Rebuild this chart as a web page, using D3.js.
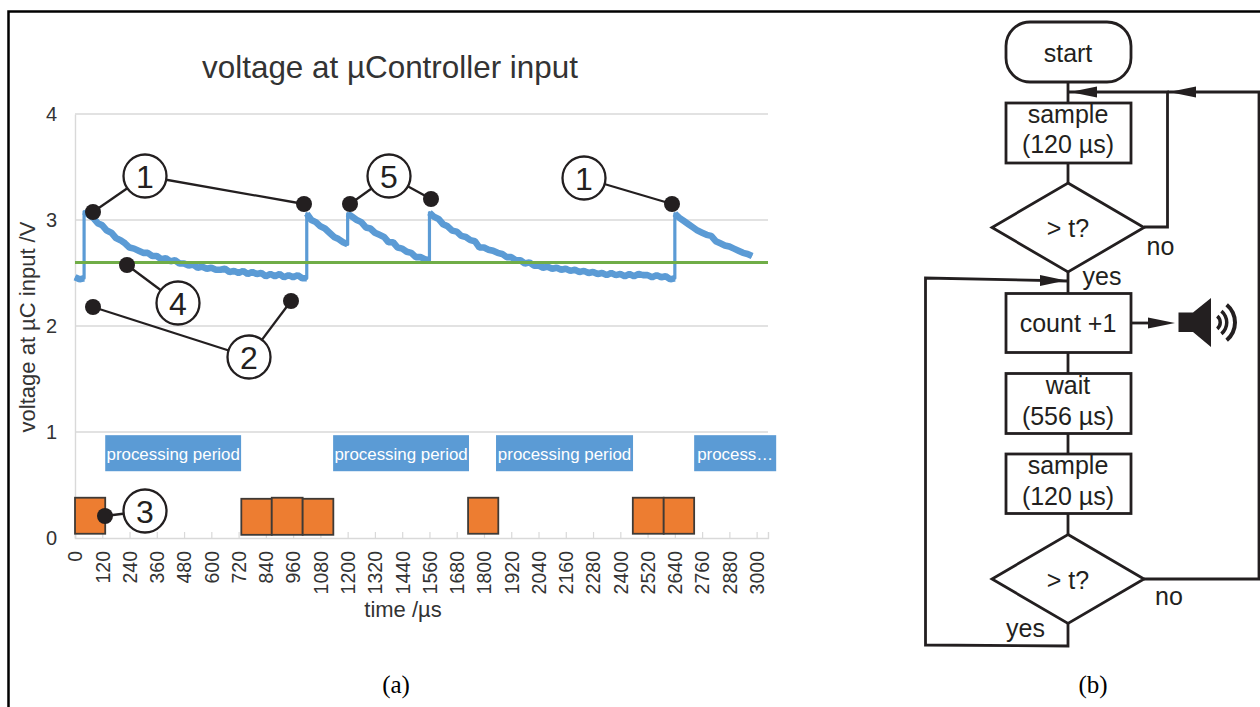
<!DOCTYPE html>
<html>
<head>
<meta charset="utf-8">
<script src="https://cdn.jsdelivr.net/npm/d3@7"></script>
<style>
  body { margin: 0; background: #fff; }
  svg { display: block; }
  text { font-family: "Liberation Sans", Arial, sans-serif; }
</style>
</head>
<body>
<div id="chart"></div>
<script>
// voltage samples, one array per charge/decay stretch (20 us apart)
const segmentStarts = [0, 40, 1020, 1200, 1560, 2640];
const voltsBefore = [2.46, 2.44, 2.45];
const voltsFirst = [
  3.08, 3.05, 3.02, 2.97, 2.95, 2.90, 2.88, 2.83, 2.81, 2.78,
  2.74, 2.73, 2.71, 2.69, 2.69, 2.66, 2.66, 2.63, 2.64, 2.61,
  2.62, 2.59, 2.59, 2.57, 2.58, 2.55, 2.56, 2.54, 2.55, 2.53,
  2.53, 2.54, 2.51, 2.52, 2.50, 2.52, 2.49, 2.51, 2.49, 2.50,
  2.47, 2.49, 2.47, 2.49, 2.46, 2.48, 2.46, 2.48, 2.45, 2.45
];
const voltsSecond = [3.06, 3.00, 2.98, 2.94, 2.92, 2.88, 2.84, 2.82, 2.79, 2.77];
const voltsThird = [
  3.06, 3.03, 3.00, 2.98, 2.93, 2.92, 2.88, 2.86, 2.84, 2.79,
  2.79, 2.74, 2.73, 2.70, 2.69, 2.65, 2.65, 2.63, 2.62
];
const voltsFourth = [
  3.07, 3.03, 3.01, 2.96, 2.94, 2.90, 2.89, 2.85, 2.84, 2.81,
  2.80, 2.74, 2.74, 2.72, 2.71, 2.69, 2.68, 2.65, 2.65, 2.62,
  2.62, 2.59, 2.60, 2.57, 2.57, 2.55, 2.56, 2.54, 2.55, 2.53,
  2.54, 2.52, 2.53, 2.51, 2.52, 2.50, 2.51, 2.49, 2.50, 2.48,
  2.50, 2.48, 2.49, 2.47, 2.49, 2.47, 2.49, 2.48, 2.48, 2.46,
  2.48, 2.46, 2.47, 2.44, 2.45
];
const voltsFifth = [
  3.06, 3.02, 2.99, 2.96, 2.93, 2.90, 2.88, 2.86, 2.85, 2.80,
  2.78, 2.76, 2.75, 2.73, 2.71, 2.69, 2.68, 2.66
];
const voltSegments = [voltsBefore, voltsFirst, voltsSecond, voltsThird, voltsFourth, voltsFifth];
const threshold = 2.6;

const timeTicks = [0, 120, 240, 360, 480, 600, 720, 840, 960, 1080, 1200, 1320, 1440, 1560, 1680,
  1800, 1920, 2040, 2160, 2280, 2400, 2520, 2640, 2760, 2880, 3000];
const voltTicks = [0, 1, 2, 3, 4];

const processingStart = [133, 1136, 1853, 2725];
const processingEnd = [731, 1734, 2456, 3086];
const processingLabel = ["processing period", "processing period", "processing period", "process…"];
const processingRange = [0.63, 0.97];

const sampleStart = [0, 732, 866, 1002, 1730, 2455, 2591];
const sampleEnd = [133, 866, 1002, 1137, 1863, 2591, 2725];
const sampleTop = [0.38, 0.37, 0.38, 0.37, 0.38, 0.38, 0.38];
const sampleBottom = [0.04, 0.03, 0.03, 0.03, 0.04, 0.04, 0.04];

const width = 1260;
const height = 707;
const textColor = "#333";
const ink = "#231f20";

const svg = d3.select("#chart")
    .append("svg")
    .attr("width", width)
    .attr("height", height);

// frame
svg.append("path")
    .attr("d", "M8.5,707V11.5H1260")
    .attr("fill", "none")
    .attr("stroke", "#000")
    .attr("stroke-width", 2.5);

const x = d3.scaleLinear().domain([0, 3050]).range([75, 768]);
const y = d3.scaleLinear().domain([0, 4]).range([538, 114]);

// grid
svg.append("g")
    .selectAll("line")
    .data(voltTicks.slice(1))
    .enter()
    .append("line")
    .attr("x1", x(0))
    .attr("x2", x(3050))
    .attr("y1", d => y(d))
    .attr("y2", d => y(d))
    .attr("stroke", "#d9d9d9")
    .attr("stroke-width", 1.4);

// axes
const yAxis = svg.append("g")
    .attr("transform", `translate(${x(0)},0)`)
    .call(d3.axisLeft(y).tickValues(voltTicks).tickSize(0).tickPadding(18).tickFormat(d3.format("d")));
yAxis.select(".domain").attr("stroke", "#d9d9d9").attr("stroke-width", 1.4);
yAxis.selectAll("text").attr("fill", textColor).style("font-size", "20px");

const xAxis = svg.append("g")
    .attr("transform", `translate(0,${y(0)})`)
    .call(d3.axisBottom(x).tickValues(timeTicks).tickSize(-6).tickFormat(d3.format("d")));
xAxis.select(".domain").attr("stroke", "#d9d9d9").attr("stroke-width", 1.4);
xAxis.selectAll(".tick line").attr("stroke", "#d9d9d9").attr("stroke-width", 1.2);
xAxis.selectAll("text")
    .attr("fill", textColor)
    .attr("transform", "rotate(-90)")
    .attr("text-anchor", "end")
    .attr("x", -13)
    .attr("y", 0)
    .attr("dy", "0.35em")
    .style("font-size", "19.5px");

// titles
svg.append("text")
    .attr("x", 390)
    .attr("y", 78)
    .attr("text-anchor", "middle")
    .attr("fill", textColor)
    .style("font-size", "31.4px")
    .text("voltage at µController input");

svg.append("text")
    .attr("transform", "translate(35,327) rotate(-90)")
    .attr("text-anchor", "middle")
    .attr("fill", textColor)
    .style("font-size", "22px")
    .text("voltage at µC input /V");

svg.append("text")
    .attr("x", 403)
    .attr("y", 616.5)
    .attr("text-anchor", "middle")
    .attr("fill", textColor)
    .style("font-size", "22px")
    .text("time /µs");

// processing periods
const processing = svg.append("g")
    .selectAll("g")
    .data(processingStart)
    .enter()
    .append("g");

processing.append("rect")
    .attr("x", d => x(d))
    .attr("y", y(processingRange[1]))
    .attr("width", (d, i) => x(processingEnd[i]) - x(d))
    .attr("height", y(processingRange[0]) - y(processingRange[1]))
    .attr("fill", "#5b9bd5");

processing.append("text")
    .attr("x", (d, i) => (x(d) + x(processingEnd[i])) / 2)
    .attr("y", 460)
    .attr("text-anchor", "middle")
    .attr("fill", "#fff")
    .style("font-size", "16.9px")
    .text((d, i) => processingLabel[i]);

// sampling blocks
svg.append("g")
    .selectAll("rect")
    .data(sampleStart)
    .enter()
    .append("rect")
    .attr("x", d => x(d))
    .attr("y", (d, i) => y(sampleTop[i]))
    .attr("width", (d, i) => x(sampleEnd[i]) - x(d))
    .attr("height", (d, i) => y(sampleBottom[i]) - y(sampleTop[i]))
    .attr("fill", "#ed7d31")
    .attr("stroke", "#3f3a36")
    .attr("stroke-width", 1.8);

// measured voltage
const segmentPoints = voltSegments.map((seg, s) =>
    seg.map((v, i) => [segmentStarts[s] + i * 20, v]));

const voltLine = d3.line()
    .x(d => x(d[0]))
    .y(d => y(d[1]));

// thin path carries the jumps, the noisy stretches are drawn heavier on top
svg.append("path")
    .datum(segmentPoints.flat())
    .attr("d", voltLine)
    .attr("fill", "none")
    .attr("stroke", "#5b9bd5")
    .attr("stroke-width", 3.2)
    .attr("stroke-linejoin", "round");

svg.append("g")
    .selectAll("path")
    .data(segmentPoints)
    .enter()
    .append("path")
    .attr("d", voltLine)
    .attr("fill", "none")
    .attr("stroke", "#5b9bd5")
    .attr("stroke-width", 6.6)
    .attr("stroke-linejoin", "bevel");

// threshold
svg.append("line")
    .attr("x1", x(0))
    .attr("x2", x(3050))
    .attr("y1", y(threshold))
    .attr("y2", y(threshold))
    .attr("stroke", "#70ad47")
    .attr("stroke-width", 3);

// numbered callouts
const callouts = [
    { label: "1", at: [145, 176], dots: [[93, 212], [304, 204]] },
    { label: "5", at: [389, 176], dots: [[350, 204], [431, 199]] },
    { label: "1", at: [584, 178], dots: [[672, 204]] },
    { label: "4", at: [178, 303], dots: [[127, 265]] },
    { label: "2", at: [249, 357], dots: [[93, 307], [291, 301]] },
    { label: "3", at: [145, 511], dots: [[105, 516]] }
];

const callout = svg.append("g")
    .selectAll("g")
    .data(callouts)
    .enter()
    .append("g");

callout.selectAll("line")
    .data(d => d.dots.map(p => [p, d.at]))
    .enter()
    .append("line")
    .attr("x1", d => d[0][0])
    .attr("y1", d => d[0][1])
    .attr("x2", d => d[1][0])
    .attr("y2", d => d[1][1])
    .attr("stroke", ink)
    .attr("stroke-width", 2.3);

callout.selectAll(".dot")
    .data(d => d.dots)
    .enter()
    .append("circle")
    .attr("class", "dot")
    .attr("cx", d => d[0])
    .attr("cy", d => d[1])
    .attr("r", 8)
    .attr("fill", ink);

callout.append("circle")
    .attr("cx", d => d.at[0])
    .attr("cy", d => d.at[1])
    .attr("r", 21.5)
    .attr("fill", "#fff")
    .attr("stroke", ink)
    .attr("stroke-width", 2.3);

callout.append("text")
    .attr("x", d => d.at[0])
    .attr("y", d => d.at[1] + 11.5)
    .attr("text-anchor", "middle")
    .attr("fill", ink)
    .style("font-size", "32px")
    .text(d => d.label);

// captions
svg.selectAll(".caption")
    .data([["(a)", 396], ["(b)", 1093]])
    .enter()
    .append("text")
    .attr("class", "caption")
    .attr("x", d => d[1])
    .attr("y", 693)
    .attr("text-anchor", "middle")
    .attr("fill", "#000")
    .style("font-family", "'Liberation Serif', serif")
    .style("font-size", "25px")
    .text(d => d[0]);

// flow chart (b)
const flow = svg.append("g")
    .attr("fill", "none")
    .attr("stroke", ink)
    .attr("stroke-width", 2.8);

const wires = [
    [[1068, 82], [1068, 103]],
    [[1068, 163], [1068, 183]],
    [[1144, 227], [1167.5, 227], [1167.5, 92], [1068, 92]],
    [[1144, 579], [1259, 579], [1259, 92], [1167.5, 92]],
    [[1068, 271], [1068, 293]],
    [[1068, 353], [1068, 373]],
    [[1068, 433], [1068, 454]],
    [[1068, 513], [1068, 534]],
    [[1068, 623], [1068, 646], [925.5, 645], [925.5, 278], [1068, 281]],
    [[1131, 323], [1160, 323]]
];

flow.selectAll(".wire")
    .data(wires)
    .enter()
    .append("path")
    .attr("class", "wire")
    .attr("d", d3.line());

flow.append("rect")
    .attr("x", 1006)
    .attr("y", 22)
    .attr("width", 125)
    .attr("height", 60)
    .attr("rx", 24)
    .attr("ry", 24)
    .attr("fill", "#fff");

flow.selectAll(".box")
    .data([[103, 60], [293.5, 59], [373.5, 60], [454, 59.5]])
    .enter()
    .append("rect")
    .attr("class", "box")
    .attr("x", 1006)
    .attr("y", d => d[0])
    .attr("width", 125)
    .attr("height", d => d[1])
    .attr("fill", "#fff");

flow.selectAll(".decision")
    .data([[227.5, 44.5], [579, 44.5]])
    .enter()
    .append("path")
    .attr("class", "decision")
    .attr("d", d => `M1068,${d[0] - d[1]}L1144,${d[0]}L1068,${d[0] + d[1]}L992,${d[0]}Z`)
    .attr("fill", "#fff");

// arrow heads: tip, base x, y
const arrowHeads = [[1070, 1097, 92], [1169, 1196, 92], [1066, 1040, 280.5], [1175, 1148, 323]];
svg.append("g")
    .selectAll("path")
    .data(arrowHeads)
    .enter()
    .append("path")
    .attr("d", d => `M${d[0]},${d[2]}L${d[1]},${d[2] - 5.5}V${d[2] + 5.5}Z`)
    .attr("fill", ink);

// speaker
svg.append("path")
    .attr("d", "M1178.5,312.5H1193L1211,298V347L1193,332H1178.5Z")
    .attr("fill", ink);

const soundArc = d3.arc().startAngle(Math.PI * 0.22).endAngle(Math.PI * 0.78);
svg.append("g")
    .attr("transform", "translate(1212,322.5)")
    .selectAll("path")
    .data([[6.5, 10], [13, 16.5], [21, 25]])
    .enter()
    .append("path")
    .attr("d", d => soundArc({ innerRadius: d[0], outerRadius: d[1] }))
    .attr("fill", ink);

const flowText = [
    ["start", 1068, 62, "middle"],
    ["sample", 1068, 122.5, "middle"],
    ["(120 µs)", 1068, 153, "middle"],
    ["> t?", 1068, 236.5, "middle"],
    ["no", 1146.5, 255, "start"],
    ["yes", 1082.5, 285, "start"],
    ["count +1", 1068, 332, "middle"],
    ["wait", 1068, 393.5, "middle"],
    ["(556 µs)", 1068, 425, "middle"],
    ["sample", 1068, 474, "middle"],
    ["(120 µs)", 1068, 505, "middle"],
    ["> t?", 1068, 588.5, "middle"],
    ["no", 1155, 605, "start"],
    ["yes", 1006, 637, "start"]
];

svg.append("g")
    .selectAll("text")
    .data(flowText)
    .enter()
    .append("text")
    .attr("x", d => d[1])
    .attr("y", d => d[2])
    .attr("text-anchor", d => d[3])
    .attr("fill", ink)
    .style("font-size", "25px")
    .text(d => d[0]);
</script>
</body>
</html>
